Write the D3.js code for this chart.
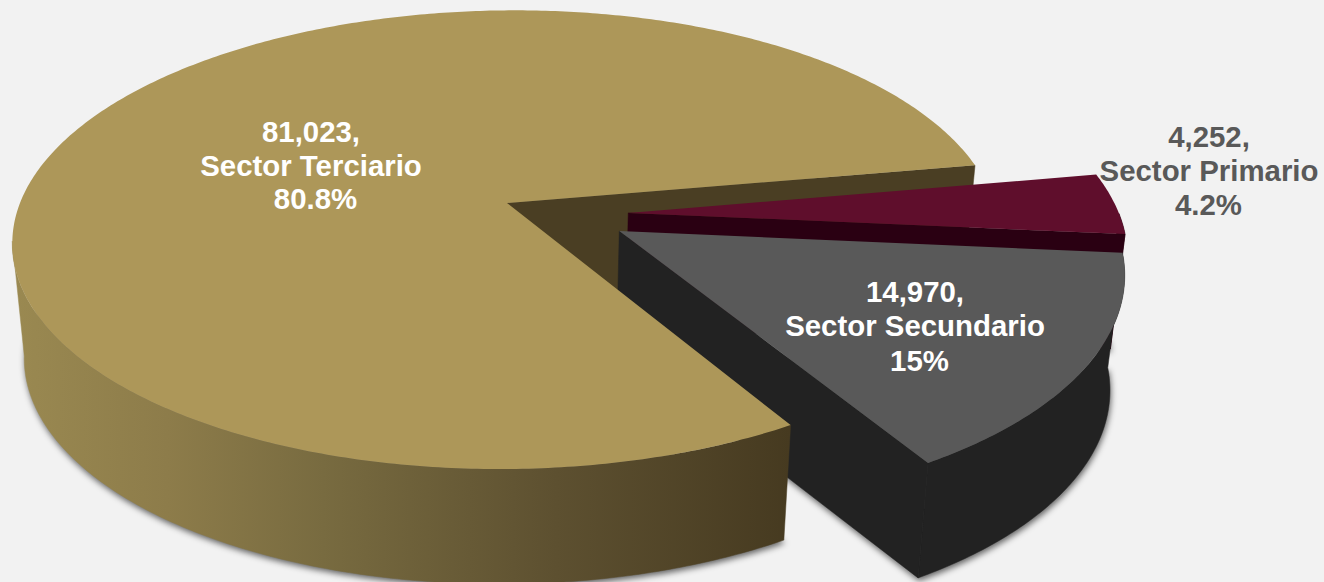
<!DOCTYPE html>
<html><head><meta charset="utf-8">
<script src="https://cdn.jsdelivr.net/npm/d3@7"></script>
<style>html,body{margin:0;padding:0;background:#f2f2f2;overflow:hidden}svg{display:block}text{font-family:"Liberation Sans",Arial,sans-serif;font-weight:700;font-size:29.4px;text-anchor:middle}</style>
</head><body><svg id="c" width="1324" height="582"></svg>
<script>
// Data
const categories = ["Sector Primario", "Sector Secundario", "Sector Terciario"];
const values = [4252, 14970, 81023];
const valueLabels = ["4,252,", "14,970,", "81,023,"];
const percentLabels = ["4.2%", "15%", "80.8%"];

// Styles & layout
const topColors = ["#5f0e2c", "#595959", "#ad9759"];
const cutColors = ["#2a0012", "#222222", "#4a3e23"];
const wallColors = ["#2a0012", "#222222", "url(#wall)"];
const labelColors = ["#595959", "#ffffff", "#ffffff"];
const explodeU = [0.248, 0.228, 0], explodeV = [0.044, 0.123, 0];
const labelX = [1209, 915, 311], labelY = [147, 302, 142];
const labelLineH = [34, 34.3, 33.5];
const lineShift = [[0, 0, -0.5], [0, 0, 4.5], [0, 0, 4.5]];
const wallFrom = [213, 213, 240]; // rim height where each outer wall turns toward the viewer

const W = 1324, H = 582;
const apexX = 507, apexY = 203, rx = 487, ry = 223.5, persp = 0.16, skew = 8, depth = 115, vanishX = 510, shrink = 0.976;
const startDeg = 80;

// perspective projection of the unit disc
const project = (u, v) => { const d = 1 - persp * v; return [apexX + rx * u / d - skew * v, apexY + ry * v / d]; };
const lower = ([x, y]) => [vanishX + (x - vanishX) * shrink, y + depth];

const svg = d3.select("#c");
const defs = svg.append("defs");
const blur = defs.append("filter").attr("id", "blur").attr("x", "-10%").attr("y", "-10%").attr("width", "120%").attr("height", "120%");
blur.append("feGaussianBlur").attr("stdDeviation", 3.2);
const grad = defs.append("linearGradient").attr("id", "wall").attr("gradientUnits", "userSpaceOnUse")
  .attr("x1", 12).attr("x2", 790).attr("y1", 0).attr("y2", 0);
[[0, "#9a8951"], [0.2, "#8d7c4a"], [0.4, "#786b40"], [0.7, "#5d5030"], [1, "#463a20"]]
  .forEach(([o, c]) => grad.append("stop").attr("offset", o).attr("stop-color", c));

svg.append("rect").attr("width", W).attr("height", H).attr("fill", "#f2f2f2");

const pie = d3.pie().sort(null).startAngle(startDeg * Math.PI / 180).endAngle((startDeg + 360) * Math.PI / 180);
const line = d3.line();
const slices = pie(values).map((d, i) => {
  const n = Math.max(8, Math.round((d.endAngle - d.startAngle) * 90));
  const angles = d3.range(n + 1).map(k => d.startAngle + (d.endAngle - d.startAngle) * k / n);
  const rim = angles.map(a => project(Math.sin(a) + explodeU[i], -Math.cos(a) + explodeV[i]));
  const apex = project(explodeU[i], explodeV[i]);
  return { i, apex, rim };
});

const face = s => line([s.apex, ...s.rim]) + "Z";
const faceLow = s => line([s.apex, ...s.rim].map(lower)) + "Z";
// the slice's closing straight face is the one that looks toward the viewer
const cutFace = s => {
  const a = s.apex, b = s.rim[s.rim.length - 1];
  return line([a, b, lower(b), lower(a)]) + "Z";
};
// outer wall: only the stretch of rim on the viewer's side
const rimWall = s => {
  const front = s.rim.filter(p => p[1] >= wallFrom[s.i]);
  return line([...front, ...front.map(lower).reverse()]) + "Z";
};

// soft shadow beneath all
svg.append("g").attr("filter", "url(#blur)").attr("transform", "translate(1,3)")
  .selectAll("path").data(slices).join("path").attr("d", faceLow).attr("fill", "#000").attr("fill-opacity", 0.6);

const [prim, sec, ter] = slices;
const drawWalls = s => svg.append("path").attr("d", rimWall(s)).attr("fill", wallColors[s.i])
  .attr("stroke", wallColors[s.i]).attr("stroke-width", 0.5);
const drawCut = s => svg.append("path").attr("d", cutFace(s)).attr("fill", cutColors[s.i])
  .attr("stroke", cutColors[s.i]).attr("stroke-width", 0.5);
const drawTop = s => svg.append("path").attr("d", face(s)).attr("fill", topColors[s.i]);

drawCut(ter);
drawWalls(prim); drawCut(prim); drawTop(prim);
drawWalls(sec); drawCut(sec); drawTop(sec);
drawWalls(ter); drawTop(ter);

// labels
const labels = svg.append("g").selectAll("text").data(categories).join("text")
  .attr("fill", (d, i) => labelColors[i])
  .attr("transform", (d, i) => `translate(${labelX[i]},${labelY[i]})`);
labels.each(function (d, i) {
  const t = d3.select(this);
  [valueLabels[i], d, percentLabels[i]].forEach((s, k) => t.append("tspan").attr("x", lineShift[i][k]).attr("y", k * labelLineH[i]).text(s));
});
</script></body></html>
